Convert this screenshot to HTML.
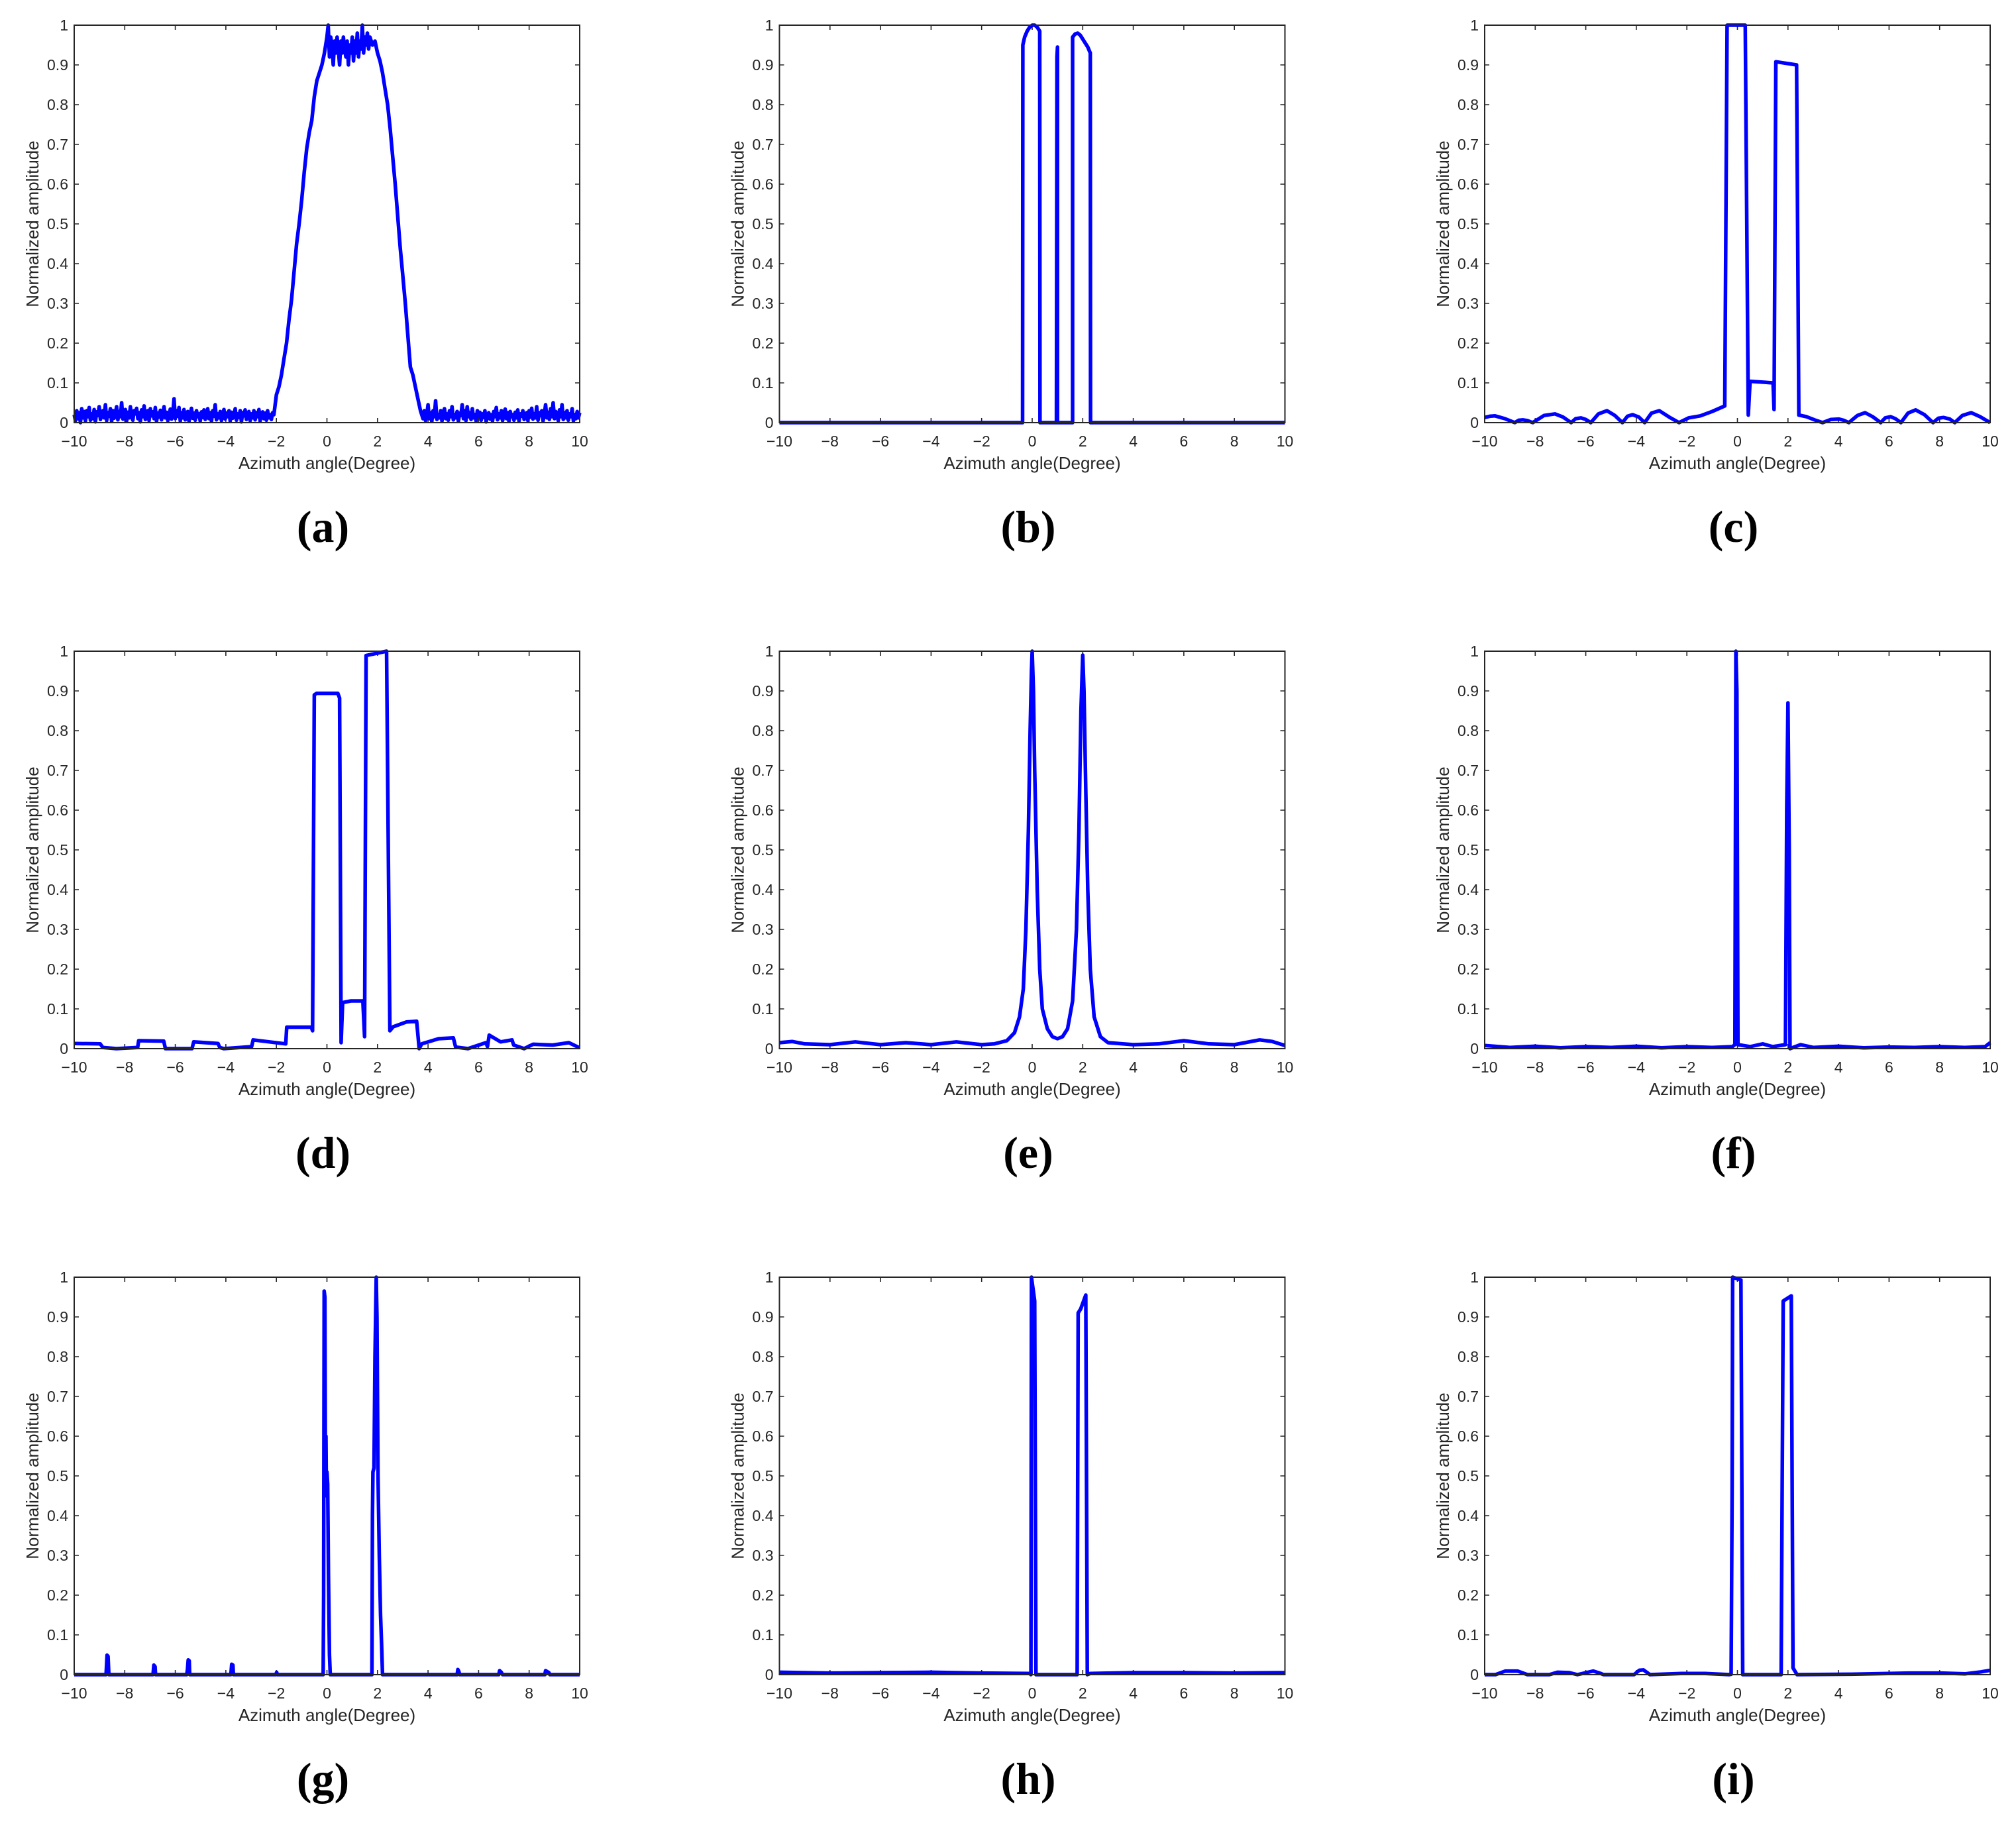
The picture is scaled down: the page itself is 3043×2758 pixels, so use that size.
<!DOCTYPE html>
<html><head><meta charset="utf-8"><style>
html,body{margin:0;padding:0;background:#fff;}
svg{display:block;}
text{font-family:"Liberation Sans",Arial,sans-serif;fill:#262626;}
.sub{font-family:"Liberation Serif","Times New Roman",serif;font-weight:bold;fill:#000;}
</style></head><body>
<svg id="fig" width="3043" height="2758" viewBox="0 0 3043 2758" xmlns="http://www.w3.org/2000/svg"></svg>
<script>
// ---- data ----
const xTicks = [-10,-8,-6,-4,-2,0,2,4,6,8,10];
const yTicks = [0,0.1,0.2,0.3,0.4,0.5,0.6,0.7,0.8,0.9,1];
const xTickLabels = ["\u221210","\u22128","\u22126","\u22124","\u22122","0","2","4","6","8","10"];
const yTickLabels = ["0","0.1","0.2","0.3","0.4","0.5","0.6","0.7","0.8","0.9","1"];
const panelLetters = ["(a)","(b)","(c)","(d)","(e)","(f)","(g)","(h)","(i)"];

// (a) noise floor values and main lobe
const aNoiseLeftRange = [-10, -2.15];
const aNoiseLeft = [0.02,0.005,0.03,0.01,0.025,0.0,0.035,0.012,0.028,0.004,0.03,0.015,0.038,0.006,0.022,0.01,0.033,0.002,0.027,0.018,0.04,0.008,0.02,0.03,0.012,0.045,0.005,0.025,0.016,0.035,0.003,0.03,0.011,0.024,0.04,0.007,0.028,0.015,0.05,0.009,0.02,0.033,0.004,0.026,0.012,0.04,0.018,0.006,0.03,0.022,0.036,0.01,0.025,0.002,0.032,0.015,0.042,0.008,0.021,0.03,0.005,0.035,0.017,0.027,0.01,0.038,0.003,0.024,0.014,0.031,0.007,0.02,0.04,0.012,0.026,0.005,0.018,0.034,0.009,0.022,0.06,0.01,0.03,0.016,0.038,0.004,0.025,0.012,0.033,0.007,0.02,0.028,0.003,0.019,0.036,0.011,0.024,0.006,0.03,0.015,0.022,0.004,0.027,0.013,0.032,0.008,0.02,0.035,0.01,0.025,0.003,0.03,0.016,0.045,0.007,0.022,0.012,0.028,0.005,0.02,0.033,0.009,0.024,0.015,0.03,0.004,0.026,0.011,0.018,0.035,0.006,0.022,0.013,0.03,0.002,0.025,0.017,0.032,0.008,0.02,0.028,0.005,0.022,0.012,0.03,0.007,0.025,0.015,0.033,0.004,0.02,0.027,0.01,0.024,0.006,0.03,0.012,0.02,0.008,0.025];
const aMainX = [-2.1,-2.0,-1.9,-1.8,-1.7,-1.6,-1.5,-1.4,-1.3,-1.2,-1.1,-1.0,-0.9,-0.8,-0.7,-0.6,-0.5,-0.4,-0.3,-0.2,-0.1,0,0.05,0.1,0.15,0.2,0.25,0.3,0.35,0.4,0.45,0.5,0.55,0.6,0.65,0.7,0.75,0.8,0.85,0.9,0.95,1.0,1.05,1.1,1.15,1.2,1.25,1.3,1.35,1.4,1.45,1.5,1.55,1.6,1.65,1.7,1.8,1.9,2.0,2.1,2.2,2.3,2.4,2.5,2.6,2.7,2.8,2.9,3.0,3.1,3.2,3.3,3.4,3.5,3.6,3.7,3.8];
const aMainY = [0.02,0.07,0.09,0.12,0.16,0.2,0.26,0.31,0.38,0.45,0.5,0.56,0.63,0.69,0.73,0.76,0.82,0.86,0.88,0.9,0.93,0.97,1.0,0.92,0.97,0.95,0.9,0.96,0.93,0.97,0.94,0.9,0.96,0.93,0.97,0.94,0.92,0.96,0.9,0.95,0.93,0.97,0.91,0.96,0.93,0.98,0.92,0.96,0.94,1.0,0.93,0.97,0.95,0.98,0.94,0.97,0.95,0.96,0.93,0.91,0.88,0.84,0.8,0.74,0.67,0.6,0.52,0.44,0.37,0.3,0.22,0.14,0.12,0.09,0.06,0.03,0.01];
const aNoiseRightRange = [3.85, 10];
const aNoiseRight = [0.03,0.005,0.02,0.045,0.01,0.025,0.003,0.03,0.015,0.055,0.008,0.02,0.012,0.03,0.004,0.025,0.035,0.01,0.022,0.006,0.03,0.015,0.04,0.007,0.02,0.012,0.028,0.003,0.024,0.018,0.045,0.01,0.03,0.005,0.04,0.015,0.025,0.008,0.035,0.012,0.02,0.004,0.03,0.016,0.026,0.006,0.022,0.013,0.03,0.002,0.018,0.025,0.009,0.02,0.004,0.028,0.015,0.038,0.007,0.022,0.012,0.03,0.005,0.02,0.034,0.01,0.025,0.003,0.028,0.015,0.02,0.006,0.026,0.012,0.032,0.004,0.022,0.016,0.03,0.008,0.02,0.025,0.005,0.03,0.014,0.036,0.009,0.022,0.012,0.04,0.006,0.025,0.018,0.03,0.004,0.02,0.045,0.012,0.026,0.008,0.035,0.015,0.05,0.01,0.028,0.02,0.005,0.032,0.015,0.045,0.008,0.025,0.012,0.03,0.006,0.022,0.015,0.035,0.004,0.02,0.01,0.028,0.012,0.025];

// (b)
const bX = [-10,-0.38,-0.37,-0.3,-0.2,-0.1,0.0,0.1,0.2,0.3,0.31,0.96,0.98,1.0,1.0,1.6,1.6,1.7,1.8,1.9,2.0,2.1,2.2,2.3,2.31,10];
const bY = [0,0,0.95,0.97,0.985,0.995,1.0,1.0,0.995,0.985,0,0,0.92,0.945,0,0,0.97,0.978,0.98,0.975,0.965,0.955,0.945,0.93,0,0];
// (c)
const cX = [-10,-9.8,-9.59,-9.2,-8.81,-8.65,-8.49,-8.3,-8.1,-7.65,-7.22,-6.9,-6.58,-6.4,-6.19,-6.0,-5.8,-5.5,-5.16,-4.85,-4.55,-4.35,-4.15,-3.9,-3.67,-3.4,-3.09,-2.7,-2.31,-1.93,-1.47,-1.0,-0.5,-0.41,0.31,0.43,0.5,1.41,1.45,1.52,2.34,2.43,2.73,3.05,3.37,3.7,4.02,4.2,4.41,4.75,5.05,5.35,5.67,5.85,6.06,6.25,6.47,6.75,7.05,7.4,7.74,7.95,8.15,8.4,8.6,8.9,9.25,9.6,10];
const cY = [0.013,0.016,0.017,0.01,0,0.006,0.007,0.005,0,0.018,0.022,0.014,0,0.01,0.012,0.008,0,0.022,0.03,0.018,0,0.016,0.02,0.014,0,0.024,0.03,0.014,0,0.012,0.017,0.028,0.042,1.0,1.0,0.019,0.104,0.1,0.033,0.908,0.9,0.019,0.015,0.007,0,0.008,0.009,0.006,0,0.018,0.025,0.015,0,0.012,0.015,0.01,0,0.024,0.032,0.02,0,0.011,0.013,0.009,0,0.018,0.025,0.015,0];
// (d)
const dX = [-10,-8.97,-8.87,-8.33,-7.49,-7.45,-6.46,-6.39,-5.34,-5.27,-4.31,-4.24,-4.08,-2.98,-2.92,-1.63,-1.59,-0.62,-0.57,-0.5,-0.41,0.43,0.5,0.56,0.62,0.95,1.42,1.49,1.55,2.36,2.49,2.62,3.14,3.55,3.65,3.75,4.42,5.0,5.09,5.58,6.29,6.35,6.42,6.87,7.32,7.39,7.8,8.16,8.93,9.57,10];
const dY = [0.013,0.012,0.003,0,0.003,0.02,0.019,0,0,0.017,0.013,0.003,0,0.005,0.022,0.012,0.054,0.054,0.045,0.89,0.894,0.894,0.882,0.015,0.116,0.12,0.12,0.03,0.989,1.0,0.045,0.055,0.067,0.069,0,0.012,0.025,0.027,0.004,0,0.015,0.005,0.034,0.017,0.022,0.009,0,0.011,0.009,0.015,0.002];
// (e)
const eX = [-10,-9.5,-9,-8,-7,-6,-5,-4,-3,-2,-1.5,-1,-0.7,-0.5,-0.35,-0.25,-0.15,-0.08,-0.03,0,0.05,0.1,0.2,0.3,0.4,0.6,0.8,1.0,1.2,1.4,1.6,1.75,1.85,1.93,2.0,2.05,2.12,2.2,2.3,2.45,2.7,3,4,5,6,7,8,9,9.5,10];
const eY = [0.015,0.018,0.012,0.01,0.017,0.01,0.015,0.01,0.017,0.01,0.012,0.02,0.04,0.08,0.15,0.3,0.55,0.8,0.95,1.0,0.9,0.7,0.4,0.2,0.1,0.05,0.03,0.025,0.03,0.05,0.12,0.3,0.55,0.85,0.99,0.9,0.65,0.4,0.2,0.08,0.03,0.015,0.01,0.012,0.02,0.012,0.01,0.022,0.018,0.008];
// (f)
const fX = [-10,-9,-8,-7,-6,-5,-4,-3,-2,-1,-0.2,-0.1,-0.06,-0.02,0.02,0.5,1.0,1.4,1.9,1.95,2.0,2.05,2.08,2.5,3,4,5,6,7,8,9,9.8,10];
const fY = [0.008,0.003,0.006,0.002,0.005,0.003,0.006,0.002,0.005,0.003,0.005,0.01,1.0,0.9,0.01,0.005,0.012,0.005,0.01,0.6,0.87,0.5,0,0.01,0.003,0.006,0.002,0.004,0.003,0.005,0.003,0.005,0.015];
// (g)
const gX = [-10,-8.74,-8.7,-8.66,-8.63,-6.88,-6.85,-6.8,-6.78,-5.55,-5.52,-5.49,-5.45,-5.43,-3.8,-3.77,-3.72,-3.7,-2.02,-1.99,-1.96,-0.15,-0.13,-0.11,-0.08,-0.06,-0.04,-0.02,0.0,0.03,0.06,0.1,0.13,1.78,1.8,1.82,1.86,1.9,1.95,1.98,2.02,2.07,2.12,2.16,2.2,5.15,5.18,5.22,5.25,6.8,6.83,6.9,6.95,8.62,8.65,8.78,8.82,10];
const gY = [0,0,0.049,0.046,0,0,0.024,0.02,0,0,0.012,0.037,0.035,0,0,0.026,0.024,0,0,0.006,0,0,0.2,0.965,0.95,0.5,0.6,0.45,0.51,0.48,0.25,0.05,0,0,0.4,0.51,0.52,0.8,1.0,0.9,0.5,0.3,0.15,0.08,0,0,0.013,0.008,0,0,0.01,0.006,0,0,0.01,0.005,0,0];
// (h)
const hX = [-10,-8,-6,-4,-2,-0.1,-0.05,-0.03,0.1,0.15,1.78,1.82,1.92,2.12,2.18,2.3,4,6,8,10];
const hY = [0.006,0.004,0.005,0.006,0.004,0.003,0,1.0,0.94,0,0,0.91,0.92,0.955,0,0.003,0.005,0.005,0.004,0.005];
// (i)
const iX = [-10,-9.57,-9.18,-8.7,-8.31,-7.44,-7.12,-6.65,-6.33,-5.7,-5.41,-5.3,-4.09,-3.88,-3.72,-3.46,-2.22,-1.27,-0.32,-0.25,-0.21,-0.19,0.14,0.21,1.73,1.81,2.13,2.2,2.36,4.42,6.79,8.06,9.0,9.64,10];
const iY = [0,0,0.009,0.009,0,0,0.006,0.005,0,0.009,0.003,0,0,0.011,0.012,0,0.003,0.003,0,0.001,0.46,1.0,0.993,0,0,0.94,0.953,0.017,0,0.001,0.004,0.004,0.002,0.007,0.011];

// ---- layout ----
const NS = "http://www.w3.org/2000/svg";
const svg = document.getElementById("fig");
const colLeft = [112, 1176.5, 2241];
const rowTop = [38, 983, 1928];
const W = 763, H = 600;

function el(tag, attrs, parent){
  const e = document.createElementNS(NS, tag);
  for (const k in attrs) e.setAttribute(k, attrs[k]);
  parent.appendChild(e);
  return e;
}
function linspace(range, n){ const out=[]; for(let i=0;i<n;i++) out.push(range[0]+(range[1]-range[0])*i/(n-1)); return out; }

const aNoiseLeftX = linspace(aNoiseLeftRange, aNoiseLeft.length);
const aNoiseRightX = linspace(aNoiseRightRange, aNoiseRight.length);
const aX = aNoiseLeftX.concat(aMainX, aNoiseRightX);
const aY = aNoiseLeft.concat(aMainY, aNoiseRight);

const series = [[aX,aY],[bX,bY],[cX,cY],[dX,dY],[eX,eY],[fX,fY],[gX,gY],[hX,hY],[iX,iY]];

series.forEach((s, idx) => {
  const L = colLeft[idx % 3], T = rowTop[Math.floor(idx / 3)];
  const xs = v => L + (v + 10) / 20 * W;
  const ys = v => T + H - v * H;
  const g = el("g", {}, svg);
  
  

  xTicks.forEach((t, k) => {
    const x = xs(t);
    const tk = el("path", {d:`M${x},${T+H}v-7M${x},${T}v7`, stroke:"#262626", "stroke-width":1.6, fill:"none"}, g);
    
    
    const lb = el("text", {x:x, y:T+H+36, "font-size":23, "text-anchor":"middle"}, g);
    lb.textContent = xTickLabels[k];
    
    
  });
  yTicks.forEach((t, k) => {
    const y = ys(t);
    const tk = el("path", {d:`M${L},${y}h7M${L+W},${y}h-7`, stroke:"#262626", "stroke-width":1.6, fill:"none"}, g);
    
    
    const lb = el("text", {x:L-9, y:y+8, "font-size":23, "text-anchor":"end"}, g);
    lb.textContent = yTickLabels[k];
    
    
  });

  let d = "";
  s[0].forEach((xv, k) => { d += (k ? "L" : "M") + xs(xv).toFixed(1) + "," + ys(s[1][k]).toFixed(1); });
  const line = el("path", {d:d, stroke:"#0000ff", "stroke-width":5.5, fill:"none", "stroke-linejoin":"round"}, g);
  
  

  const box = el("rect", {x:L, y:T, width:W, height:H, fill:"none", stroke:"#262626", "stroke-width":2}, g);
  
  

  const xl = el("text", {x:L+W/2, y:T+H+70, "font-size":26, "text-anchor":"middle"}, g);
  xl.textContent = "Azimuth angle(Degree)";
  
  
  const cx = L-63, cy = T+H/2;
  const yl = el("text", {x:cx, y:cy, "font-size":26, "text-anchor":"middle", transform:`rotate(-90 ${cx} ${cy})`, dy:9}, g);
  yl.textContent = "Normalized amplitude";
  
  
  const sl = el("text", {x:L+W/2-6, y:T+H+180, "font-size":68, "text-anchor":"middle", class:"sub"}, g);
  sl.textContent = panelLetters[idx];
  
  
});
</script>
</body></html>
